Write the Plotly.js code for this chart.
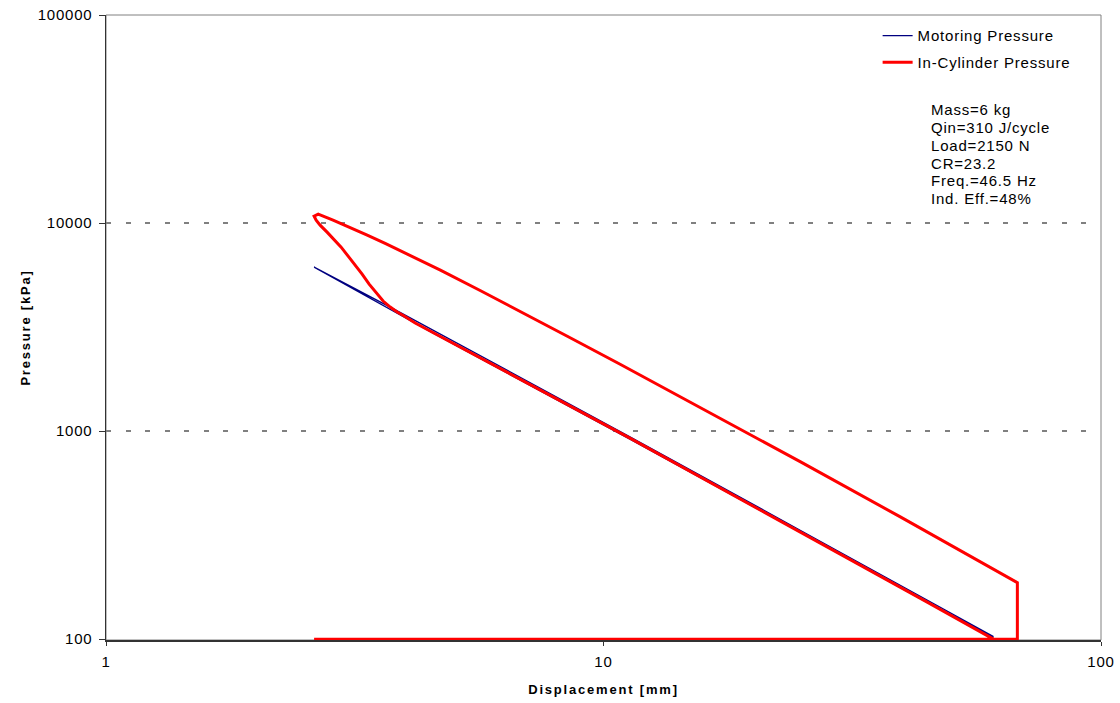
<!DOCTYPE html>
<html>
<head>
<meta charset="utf-8">
<script src="https://cdn.plot.ly/plotly-3.0.1.min.js"></script>
<style>
html,body{margin:0;padding:0;background:#fff;}
#chart{width:1120px;height:703px;}
text{letter-spacing:0.8px;}
#chart .xtitle, #chart .ytitle{letter-spacing:1.8px;}
</style>
</head>
<body>
<div id="chart"></div>
<script>
// ---- data ----
var motorX = [60.8, 44.0, 24.9, 11.3, 4.48, 3.90, 2.62, 3.90, 4.48, 11.3, 24.9, 44.0, 60.8];
var motorY = [102.8, 157, 333, 940, 3110, 3720, 6140, 3600, 3010, 915, 326, 153.5, 102];

var cylX = [2.62, 67.9, 67.9, 39.5, 24.9, 15.65, 10.8, 8.57, 6.80, 5.65, 4.70, 4.28, 3.90, 3.64, 3.35, 3.10, 2.86, 2.67, 2.62,
            2.645, 2.694, 2.782, 2.874, 2.969, 3.067, 3.169, 3.272, 3.380, 3.491, 3.606, 3.726, 3.848, 3.974, 4.183, 11.3, 24.9, 44.0, 60.8];
var cylY = [100, 100, 187, 387, 711, 1301, 2097, 2811, 3768, 4742, 5941, 6636, 7387, 7983, 8750, 9504, 10325, 11030, 10790,
            10325, 9770, 9045, 8369, 7661, 6935, 6279, 5684, 5090, 4608, 4219, 3948, 3735, 3574, 3310, 925, 327, 154, 100];

var seriesNames = ["Motoring Pressure", "In-Cylinder Pressure"];
var xTickVals = [1, 10, 100];
var xTickText = ["1", "10", "100"];
var yTickVals = [100, 1000, 10000, 100000];
var yTickText = ["100", "1000", "10000", "100000"];
var infoLines = ["Mass=6 kg", "Qin=310 J/cycle", "Load=2150 N", "CR=23.2", "Freq.=46.5 Hz", "Ind. Eff.=48%"];

var FONT = "Arial, 'Liberation Sans', sans-serif";

var traces = [
  {x: motorX, y: motorY, type: "scatter", mode: "lines", name: seriesNames[0],
   legendgroup: "a", line: {color: "#000080", width: 1.3}},
  {x: cylX, y: cylY, type: "scatter", mode: "lines", name: seriesNames[1],
   legendgroup: "b", line: {color: "#ff0000", width: 3}}
];

var annots = infoLines.map(function(t, i){
  return {xref: "paper", yref: "paper", x: 0.8275, y: 0.8485 - i * 0.02845,
    xanchor: "left", yanchor: "middle", showarrow: false, align: "left",
    text: t, font: {family: FONT, size: 15, color: "#000"}};
});

var layout = {
  width: 1120, height: 703,
  margin: {l: 106, r: 19.4, t: 15, b: 62.5},
  paper_bgcolor: "#fff", plot_bgcolor: "#fff",
  font: {family: FONT, size: 15, color: "#000"},
  showlegend: true,
  legend: {x: 0.7755, y: 0.993, xanchor: "left", yanchor: "top",
    bgcolor: "rgba(0,0,0,0)", font: {family: FONT, size: 15, color: "#000"},
    tracegroupgap: 4},
  xaxis: {type: "log", range: [0, 2], tickvals: xTickVals, ticktext: xTickText,
    showgrid: false, zeroline: false, showline: true, linecolor: "#333", linewidth: 1.5,
    ticks: "outside", ticklen: 4, tickcolor: "#333", ticklabelstandoff: 3,
    title: {text: "Displacement [mm]", font: {family: FONT, size: 13, color: "#000", weight: "bold"}, standoff: 16},
    tickfont: {family: FONT, size: 15}},
  yaxis: {type: "log", range: [1.996, 5], tickvals: yTickVals, ticktext: yTickText,
    showgrid: true, gridcolor: "#808080", gridwidth: 2, griddash: "5px,14.5px",
    zeroline: false, showline: true, linecolor: "#333", linewidth: 1.5,
    ticks: "outside", ticklen: 6, tickcolor: "#333", ticklabelstandoff: 3,
    title: {text: "Pressure [kPa]", font: {family: FONT, size: 13, color: "#000", weight: "bold"}, standoff: 4},
    tickfont: {family: FONT, size: 15}},
  shapes: [{type: "rect", xref: "paper", yref: "paper", x0: 0, x1: 1, y0: 0, y1: 1,
    line: {color: "#808080", width: 1}, layer: "below"}],
  annotations: annots
};

Plotly.newPlot("chart", traces, layout, {displayModeBar: false, staticPlot: true});
</script>
</body>
</html>
